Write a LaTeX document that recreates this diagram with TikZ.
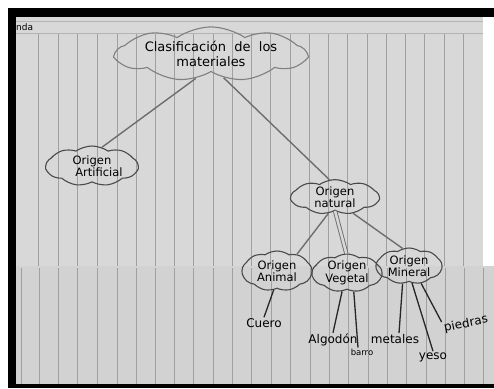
\documentclass[tikz,border=0pt]{standalone}
\usepackage{fontspec}
\usepackage{xcolor}
\usepackage{tikz}
\usetikzlibrary{shapes.symbols}
\setmainfont{DejaVu Sans}

\definecolor{paper}{HTML}{D8D8D8}
\definecolor{paperlow}{HTML}{D2D2D2}
\definecolor{rule}{HTML}{A0A0A0}
\definecolor{pencil}{HTML}{4A4A4A}

\tikzset{
  concept/.style={cloud, cloud puffs=9, cloud puff arc=70, cloud ignores aspect,
    draw=pencil, line width=1.1pt, inner sep=0pt, align=center,
    font=\fontsize{11.5}{12.5}\selectfont},
  leaf/.style={inner sep=1pt, font=\fontsize{12}{13}\selectfont},
  link/.style={draw=pencil!80, line width=1.4pt},
  leaflink/.style={draw=black!85, line width=1.3pt}
}

\begin{document}
\begin{tikzpicture}[x=1pt, y=-1pt]
            \useasboundingbox (0,0) rectangle (494,388);
            % Paper
            \fill[white] (0,0) rectangle (494,388);
            \fill[black] (8,8) rectangle (494,388);
            \fill[white] (483,17) rectangle (494,266);
            \fill[paper] (16,17) rectangle (483,266);
            \fill[paperlow] (16,266) rectangle (494,384);
            \foreach \x in {38,58,77,97,117,136,155,174,193,213,232,251,270,290,309,328,347,367,386,405,424,444,463} {
                \draw[rule, line width=0.7pt] (\x,33) -- (\x,266);
            }
            \foreach \x in {21,39,58,77,97,117,136,155,174,193,213,232,251,271,290,310,329,348,368,387,406,426,445,464,483} {
                \draw[rule, line width=0.7pt] (\x,268) -- (\x,384);
            }
            \draw[rule!80, line width=0.6pt] (16,21) -- (483,21);
            \draw[rule!80, line width=0.6pt] (16,33) -- (483,33);
            \node[anchor=west, inner sep=0pt, font=\fontsize{9}{9}\selectfont] (nda) at (16,27) {nda};

            % Nodes
            \node[concept, draw=pencil!70, minimum width=190pt, minimum height=50pt, font=\fontsize{13}{15}\selectfont] (clasif) at (211,54) {Clasificación\ \ de\ \ los\\materiales};
            \node[concept, minimum width=92pt, minimum height=40pt] (artif) at (92,166) {Origen\\\hspace*{14pt}Artificial};
            \node[concept, minimum width=88pt, minimum height=34pt] (natur) at (335,197) {Origen\\natural};
            \node[concept, minimum width=70pt, minimum height=40pt] (animal) at (277,271) {Origen\\Animal};
            \node[concept, minimum width=70pt, minimum height=38pt] (veget) at (347,273) {Origen\\Vegetal};
            \node[concept, minimum width=66pt, minimum height=36pt] (miner) at (409,266) {Origen\\Mineral};
            \node[leaf] (cuero) at (264,323) {Cuero};
            \node[leaf] (algod) at (333,340) {Algodón};
            \node[leaf, font=\fontsize{8.5}{9}\selectfont] (barro) at (362,352) {barro};
            \node[leaf] (metal) at (395,339) {metales};
            \node[leaf] (yeso) at (433,357) {yeso};
            \node[leaf, rotate=12] (piedr) at (466,324) {piedras};

            % Edges
            \draw[link] (clasif.-122) -- (artif.62);
            \draw[link] (clasif.-62) -- (natur.108);
            \draw[link] (natur.-112) -- (animal.40);
            \draw[link, double=paper, double distance=2.5pt, line width=0.9pt] (natur.-90) -- (veget.92);
            \draw[link] (natur.-42) -- (miner.110);
            \draw[leaflink] (animal.-100) -- (cuero.north);
            \draw[leaflink] (veget.-105) -- (algod.north);
            \draw[leaflink] (veget.-70) -- ([xshift=-4pt]barro.north);
            \draw[leaflink] (miner.-110) -- ([xshift=4pt]metal.north);
            \draw[leaflink] (miner.-80) -- (yeso.north);
            \draw[leaflink] (miner.-55) -- (piedr.north west);
        \end{tikzpicture}
\end{document}
